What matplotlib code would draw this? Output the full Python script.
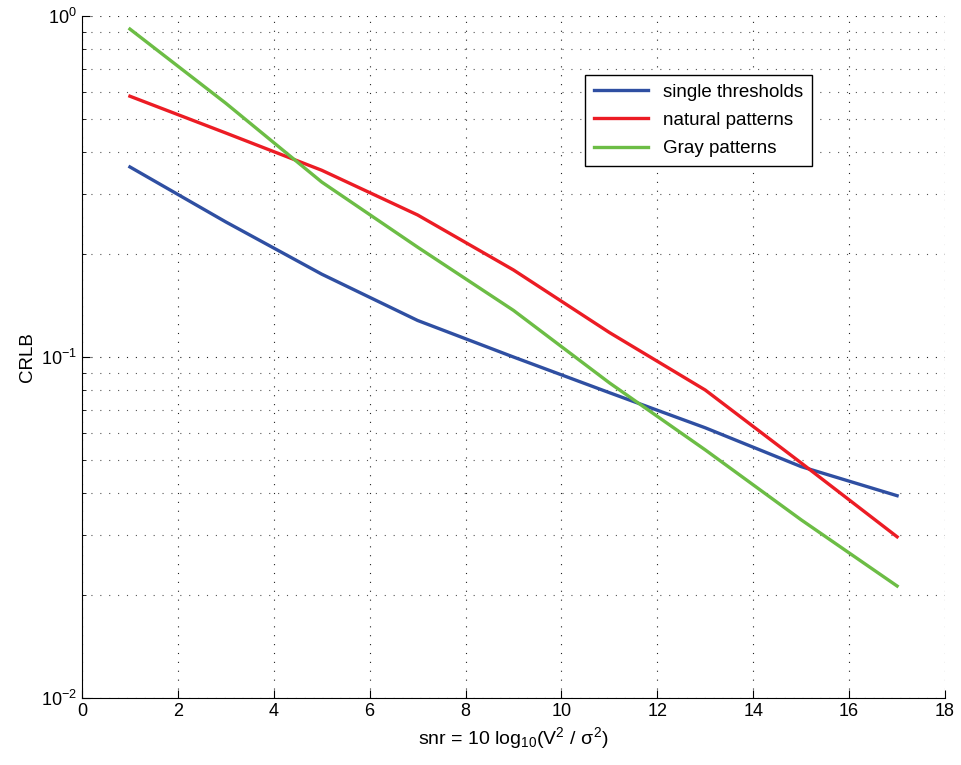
import numpy as np
import matplotlib
matplotlib.use('Agg')
import matplotlib.pyplot as plt
from matplotlib.ticker import LogLocator, NullFormatter

plt.rcParams['font.family'] = ['Liberation Sans', 'DejaVu Sans']
plt.rcParams['mathtext.fontset'] = 'custom'
plt.rcParams['mathtext.rm'] = 'Liberation Sans'
plt.rcParams['mathtext.it'] = 'Liberation Sans'

# data
snr = [1, 3, 5, 7, 9, 11, 13, 15, 17]
single_thresholds = [0.361, 0.249, 0.175, 0.128, 0.100, 0.0786, 0.062, 0.0477, 0.0392]
natural_patterns = [0.582, 0.454, 0.353, 0.261, 0.180, 0.118, 0.080, 0.0489, 0.0297]
gray_patterns = [0.916, 0.555, 0.326, 0.210, 0.137, 0.084, 0.0534, 0.0333, 0.0213]

fig = plt.figure(figsize=(9.61, 7.65), dpi=100)
ax = fig.add_axes([0.0853, 0.0876, 0.8981, 0.8914])

ax.plot(snr, single_thresholds, color='#2f4fa2', lw=2.4, label='single thresholds')
ax.plot(snr, natural_patterns, color='#ec1c24', lw=2.4, label='natural patterns')
ax.plot(snr, gray_patterns, color='#6cbd45', lw=2.4, label='Gray patterns')

ax.set_yscale('log')
ax.set_xlim(0, 18)
ax.set_ylim(1e-2, 1e0)
ax.set_xticks(range(0, 19, 2))
ax.yaxis.set_major_locator(LogLocator(base=10, numticks=10))
ax.yaxis.set_minor_locator(LogLocator(base=10, subs=np.arange(2, 10), numticks=10))
ax.yaxis.set_minor_formatter(NullFormatter())

# matlab-style sparse dotted grid
ax.grid(True, which='major', color='#222222', linestyle=(0, (1, 7)), lw=0.8)
ax.grid(True, which='minor', axis='y', color='#555555', linestyle=(0, (1, 7)), lw=0.8)

ax.spines['top'].set_visible(False)
ax.spines['right'].set_visible(False)
ax.tick_params(which='both', direction='in', labelsize=13)
ax.tick_params(which='major', length=6)
ax.tick_params(which='minor', length=3)

ax.set_xlabel(r'snr = 10 log$_{10}$(V$^2$ / $\sigma^2$)', fontsize=14)
ax.set_ylabel('CRLB', fontsize=13.5)

leg = ax.legend(loc='upper left', bbox_to_anchor=(0.583, 0.9135), borderaxespad=0,
                fontsize=13.5, fancybox=False, edgecolor='black', framealpha=1,
                handlelength=2.9, borderpad=0.45, labelspacing=0.6)
leg.get_frame().set_linewidth(1.0)

plt.savefig('out.png', dpi=100)
